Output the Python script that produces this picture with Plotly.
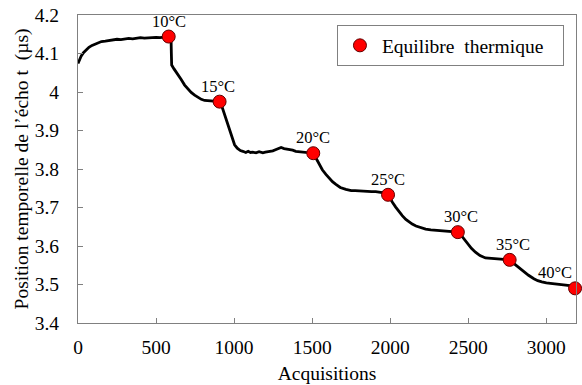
import plotly.graph_objects as go

acq = [0, 10, 20, 35, 50, 70, 90, 110, 130, 150, 175, 200, 225, 250, 275, 300, 325, 350, 375, 400,
       425, 450, 475, 500, 525, 550, 581, 590, 596, 598, 600, 615, 640, 660, 683, 705, 725, 747, 770,
       790, 811, 835, 855, 875, 907, 920, 939, 955, 971, 987, 1003, 1020, 1040, 1056, 1075, 1090, 1105,
       1120, 1140, 1160, 1184, 1200, 1220, 1248, 1265, 1285, 1301, 1320, 1335, 1354, 1375, 1395, 1418,
       1440, 1465, 1485, 1507, 1525, 1545, 1565, 1588, 1610, 1630, 1652, 1680, 1716, 1750, 1775, 1801,
       1830, 1855, 1880, 1907, 1935, 1960, 1986, 2000, 2015, 2035, 2055, 2077, 2100, 2120, 2141, 2165,
       2190, 2227, 2260, 2295, 2333, 2365, 2400, 2433, 2450, 2465, 2482, 2500, 2520, 2546, 2575, 2610,
       2640, 2670, 2695, 2730, 2765, 2785, 2800, 2822, 2850, 2886, 2920, 2945, 2971, 3000, 3040, 3078,
       3110, 3150, 3184]
pos = [4.074, 4.085, 4.093, 4.102, 4.109, 4.116, 4.121, 4.125, 4.128, 4.131, 4.132, 4.134, 4.135,
       4.137, 4.136, 4.138, 4.139, 4.138, 4.140, 4.141, 4.140, 4.141, 4.142, 4.142, 4.141, 4.143, 4.144,
       4.143, 4.140, 4.100, 4.070, 4.060, 4.046, 4.033, 4.018, 4.008, 3.999, 3.992, 3.985, 3.981, 3.978,
       3.977, 3.976, 3.975, 3.975, 3.965, 3.942, 3.920, 3.899, 3.879, 3.863, 3.854, 3.848, 3.846, 3.843,
       3.846, 3.843, 3.844, 3.842, 3.845, 3.842, 3.844, 3.845, 3.847, 3.850, 3.854, 3.856, 3.853, 3.852,
       3.851, 3.849, 3.846, 3.845, 3.843, 3.842, 3.842, 3.841, 3.828, 3.812, 3.798, 3.786, 3.775, 3.767,
       3.760, 3.752, 3.747, 3.744, 3.744, 3.743, 3.742, 3.742, 3.741, 3.741, 3.740, 3.738, 3.733, 3.722,
       3.713, 3.701, 3.690, 3.679, 3.669, 3.663, 3.657, 3.652, 3.648, 3.644, 3.642, 3.641, 3.640, 3.639,
       3.638, 3.636, 3.630, 3.622, 3.614, 3.603, 3.594, 3.584, 3.575, 3.569, 3.568, 3.567, 3.567, 3.566,
       3.564, 3.557, 3.552, 3.545, 3.535, 3.524, 3.515, 3.510, 3.507, 3.504, 3.502, 3.501, 3.499, 3.497,
       3.490]

# Thermal equilibrium points
eq_acq = [581, 907, 1507, 1986, 2433, 2765, 3184]
eq_pos = [4.144, 3.975, 3.841, 3.733, 3.636, 3.564, 3.490]
eq_labels = ["10°C", "15°C", "20°C", "25°C", "30°C", "35°C", "40°C"]
label_shift = [0, -2, 0, 0, 3, 3, -20]

FONT = "Liberation Serif"
FS = 19.5

fig = go.Figure()
fig.add_trace(go.Scatter(x=acq, y=pos, mode="lines", line=dict(color="black", width=2.8),
                         showlegend=False, hoverinfo="skip"))
fig.add_trace(go.Scatter(x=eq_acq, y=eq_pos, mode="markers",
                         name="Equilibre\u00a0 thermique\u00a0\u00a0\u00a0",
                         marker=dict(color="#ff0000", size=13, line=dict(color="#600000", width=1)),
                         cliponaxis=False))

for xa, ya, lab, sh in zip(eq_acq, eq_pos, eq_labels, label_shift):
    fig.add_annotation(x=xa, y=ya, text=lab, showarrow=False, yanchor="bottom",
                       yshift=4, xshift=sh, font=dict(family=FONT, size=16.5, color="black"))

axis_common = dict(showgrid=False, zeroline=False, showline=True, linecolor="#808080",
                   linewidth=1.2, mirror=True, ticks="inside", ticklen=5, tickcolor="#808080",
                   tickfont=dict(family=FONT, size=FS, color="black"))

fig.update_xaxes(range=[0, 3190], dtick=500, tick0=0, ticklabelstandoff=6,
                 title=dict(text="Acquisitions", font=dict(family=FONT, size=FS, color="black"),
                            standoff=9),
                 **axis_common)
fig.update_yaxes(range=[3.4, 4.2], dtick=0.1, tick0=3.4, ticklabelstandoff=14,
                 title=dict(text="Position temporelle de l’écho t\u00a0 (µs)",
                            font=dict(family=FONT, size=FS, color="black"), standoff=0),
                 **axis_common)

fig.update_layout(
    width=582, height=385,
    margin=dict(l=78, r=5, t=13, b=62),
    plot_bgcolor="white", paper_bgcolor="white",
    font=dict(family=FONT, color="black"),
    legend=dict(x=0.52, y=0.967, xanchor="left", yanchor="top", itemwidth=34,
                bordercolor="#808080", borderwidth=1, bgcolor="white",
                font=dict(family=FONT, size=FS, color="black")),
)

fig.write_html("out.html")
